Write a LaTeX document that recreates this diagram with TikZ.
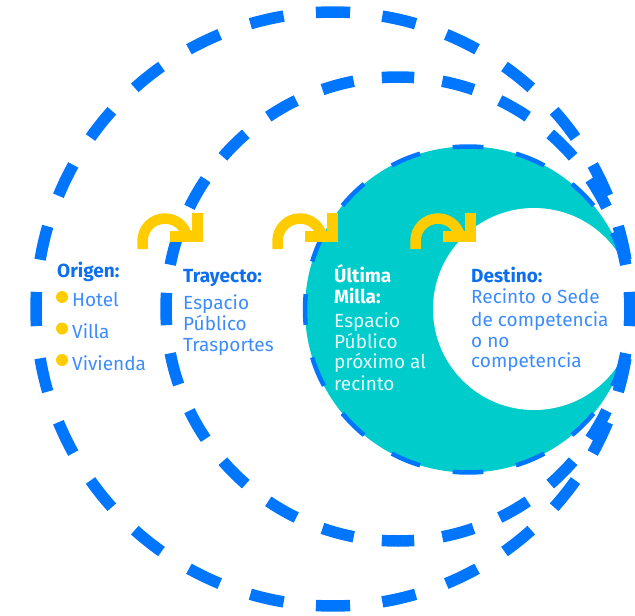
\documentclass[tikz,border=0pt]{standalone}
\usepackage{fontspec}
\setmainfont{Fira Sans}
\definecolor{dashblue}{RGB}{0,118,255}
\definecolor{tealfill}{RGB}{0,204,204}
\definecolor{gold}{RGB}{255,204,0}
\definecolor{titleblue}{RGB}{12,110,240}
\definecolor{bodyblue}{RGB}{60,140,255}
\definecolor{paleteal}{RGB}{228,250,250}
\begin{document}
\begin{tikzpicture}[x=1pt,y=-1pt,
  bigdash/.style={draw=dashblue,line width=11.5pt},
  tealdash/.style={draw=dashblue,line width=4.5pt},
  hookarc/.style={draw=gold,line width=10.5pt},
  hookhead/.style={draw=gold,line width=11pt,miter limit=10},
  bullet/.style={fill=gold},
  ttl/.style={anchor=base west,inner sep=0pt,font=\fontsize{19}{19}\selectfont\bfseries,text=titleblue},
  bdy/.style={anchor=base west,inner sep=0pt,font=\fontsize{19}{19}\selectfont,text=bodyblue},
  wttl/.style={ttl,text=white},
  wbdy/.style={bdy,text=paleteal}]
\useasboundingbox (0,0) rectangle (635,616);
\coordinate (cOuter) at (333,309);
\coordinate (cMid) at (398,309);
\coordinate (cTeal) at (468,309.5);
\coordinate (cWhite) at (534,309);
% teal disc with thin dashed rim
\fill[tealfill] (cTeal) circle[radius=163];
\foreach \k in {0,...,15}{
  \pgfmathsetmacro\a{-(90+22.5*\k)}
  \draw[tealdash] (cTeal) ++(\a-5.4:163) arc[start angle=\a-5.4, end angle=\a+5.4, radius=163];
}
% white disc
\fill[white] (cWhite) circle[radius=101];
% outer dashed circle
\foreach \k in {0,...,27}{
  \pgfmathsetmacro\a{-(90+360/28*\k)}
  \draw[bigdash] (cOuter) ++(\a-3.3:297) arc[start angle=\a-3.3, end angle=\a+3.3, radius=297];
}
% middle dashed circle
\foreach \k in {0,...,23}{
  \pgfmathsetmacro\a{-(90+15*\k)}
  \draw[bigdash] (cMid) ++(\a-4:232) arc[start angle=\a-4, end angle=\a+4, radius=232];
}
% yellow turn arrows
\foreach \dx in {0,135,273}{
  \begin{scope}[xshift=\dx pt]
    \draw[hookarc] (142.5,249) -- (142.5,241) arc[start angle=-180, end angle=0, radius=22.5];
    \draw[hookhead] (170,236.5) -- (197.5,236.5) -- (197.5,212.5);
  \end{scope}
}
% Origen
\node[ttl] (origen) at (57,277) {Origen:};
\fill[bullet] (62,297) circle[radius=6];
\fill[bullet] (62,328.5) circle[radius=6];
\fill[bullet] (62,360) circle[radius=6];
\node[bdy] (hotel) at (72,306) {Hotel};
\node[bdy] (villa) at (72,338) {Villa};
\node[bdy] (vivienda) at (72,370) {Vivienda};
% Trayecto
\node[ttl] (trayecto) at (183,282) {Trayecto:};
\node[bdy] (tr1) at (183,309) {Espacio};
\node[bdy] (tr2) at (183,330) {Público};
\node[bdy] (tr3) at (183,351) {Trasportes};
% Ultima milla
\node[wttl] (um1) at (334,282) {Última};
\node[wttl] (um2) at (334,303) {Milla:};
\node[wbdy] (um3) at (334,327) {Espacio};
\node[wbdy] (um4) at (334,348) {Público};
\node[wbdy] (um5) at (334,368) {próximo al};
\node[wbdy] (um6) at (334,390) {recinto};
% Destino
\node[ttl] (destino) at (471,282) {Destino:};
\node[bdy] (de1) at (471,303) {Recinto o Sede};
\node[bdy] (de2) at (471,326) {de competencia};
\node[bdy] (de3) at (471,347) {o no};
\node[bdy] (de4) at (471,367) {competencia};
\end{tikzpicture}
\end{document}
